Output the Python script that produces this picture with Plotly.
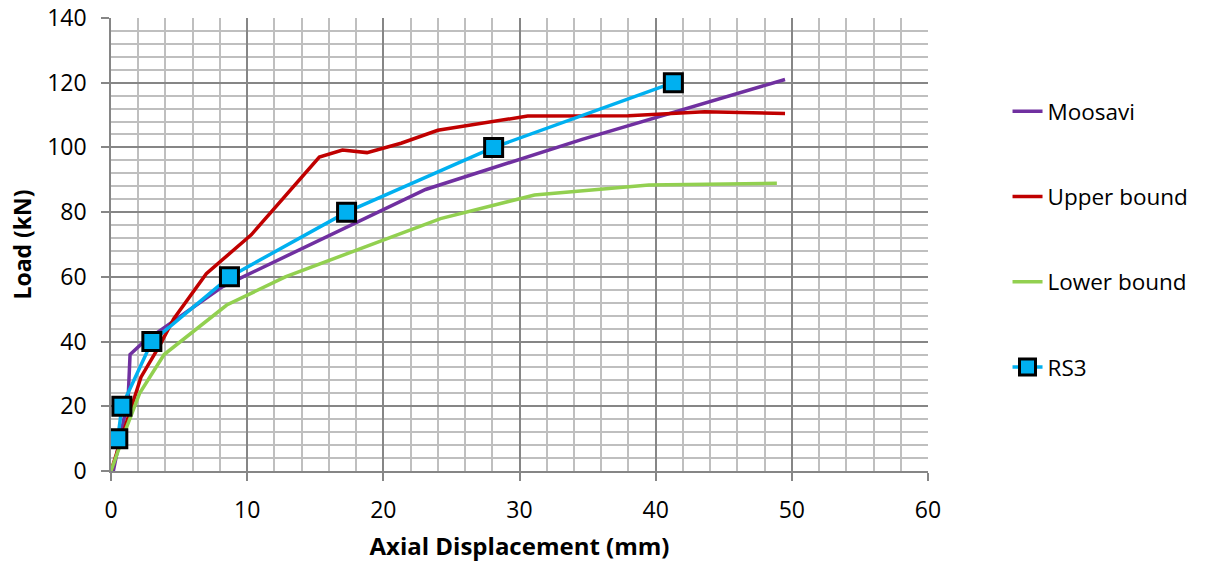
import plotly.graph_objects as go

# Data
moosavi_x = [0.17, 1.26, 1.4, 2.3, 8.2, 17.9, 23.1, 34.6, 49.5]
moosavi_y = [0, 22.5, 36, 39.5, 57, 76.5, 87, 102.5, 121]

upper_x = [0, 1.2, 2.2, 3.6, 4.6, 7.0, 10.3, 15.3, 17.0, 18.8, 21.3, 24.0, 30.6, 38.0, 43.6, 49.5]
upper_y = [0, 16, 29, 39, 47, 61, 73, 97, 99.2, 98.4, 101.3, 105.3, 109.7, 109.8, 111, 110.5]

lower_x = [0, 1.1, 2.1, 3.9, 8.5, 12.8, 24.2, 31.1, 39.5, 48.9]
lower_y = [0, 13, 24, 36, 51.3, 60, 78, 85.3, 88.4, 88.9]

rs3_x = [0.5, 0.8, 3.0, 8.7, 17.3, 28.1, 41.3]
rs3_y = [10, 20, 40, 60, 80, 100, 120]

x_ticks = [0, 10, 20, 30, 40, 50, 60]
y_ticks = [0, 20, 40, 60, 80, 100, 120, 140]

FONT = "Open Sans"

fig = go.Figure()
fig.add_trace(go.Scatter(x=moosavi_x, y=moosavi_y, mode="lines", name="Moosavi",
                         line=dict(color="#7030A0", width=3.5), legendgroup="a"))
fig.add_trace(go.Scatter(x=upper_x, y=upper_y, mode="lines", name="Upper bound",
                         line=dict(color="#C00000", width=3.5), legendgroup="b"))
fig.add_trace(go.Scatter(x=lower_x, y=lower_y, mode="lines", name="Lower bound",
                         line=dict(color="#92D050", width=3.5), legendgroup="c"))
fig.add_trace(go.Scatter(x=rs3_x, y=rs3_y, mode="lines+markers", name="RS3",
                         line=dict(color="#00B0F0", width=3.5), legendgroup="d",
                         marker=dict(symbol="square", size=18, color="#00B0F0",
                                     line=dict(color="black", width=3))))

fig.update_layout(
    width=1206, height=565,
    margin=dict(l=111, r=271, t=18, b=94),
    paper_bgcolor="white", plot_bgcolor="white",
    font=dict(family=FONT, size=22, color="black"),
    showlegend=True,
    legend=dict(x=1.325, y=0.841, xanchor="right", yanchor="top",
                font=dict(family=FONT, size=22.5, color="black"),
                tracegroupgap=53, bgcolor="rgba(0,0,0,0)"),
)
fig.update_xaxes(
    range=[0, 60], tickvals=x_ticks, ticks="outside", ticklen=8, tickcolor="#868686",
    tickwidth=1.5, ticklabelstandoff=10, automargin=False,
    showgrid=True, gridcolor="#868686", gridwidth=1.5,
    minor=dict(dtick=2, showgrid=True, gridcolor="#BFBFBF", gridwidth=1.5),
    zeroline=False, showline=True, linecolor="#868686", linewidth=1.5,
    title=dict(text="<b>Axial Displacement (mm)</b>", font=dict(family=FONT, size=24), standoff=14),
    tickfont=dict(family=FONT, size=23),
)
fig.update_yaxes(
    range=[0, 140], tickvals=y_ticks, ticks="outside", ticklen=8, tickcolor="#868686",
    tickwidth=1.5, ticklabelstandoff=10, ticklabeloverflow="allow", automargin=False,
    showgrid=True, gridcolor="#868686", gridwidth=1.5,
    minor=dict(dtick=4, showgrid=True, gridcolor="#BFBFBF", gridwidth=1.5),
    zeroline=False, showline=True, linecolor="#868686", linewidth=1.5,
    title=dict(text="<b>Load (kN)</b>", font=dict(family=FONT, size=23), standoff=9),
    tickfont=dict(family=FONT, size=23),
)

fig.write_html("out.html", config={"displayModeBar": False},
               post_script="document.body.style.margin='0';")
